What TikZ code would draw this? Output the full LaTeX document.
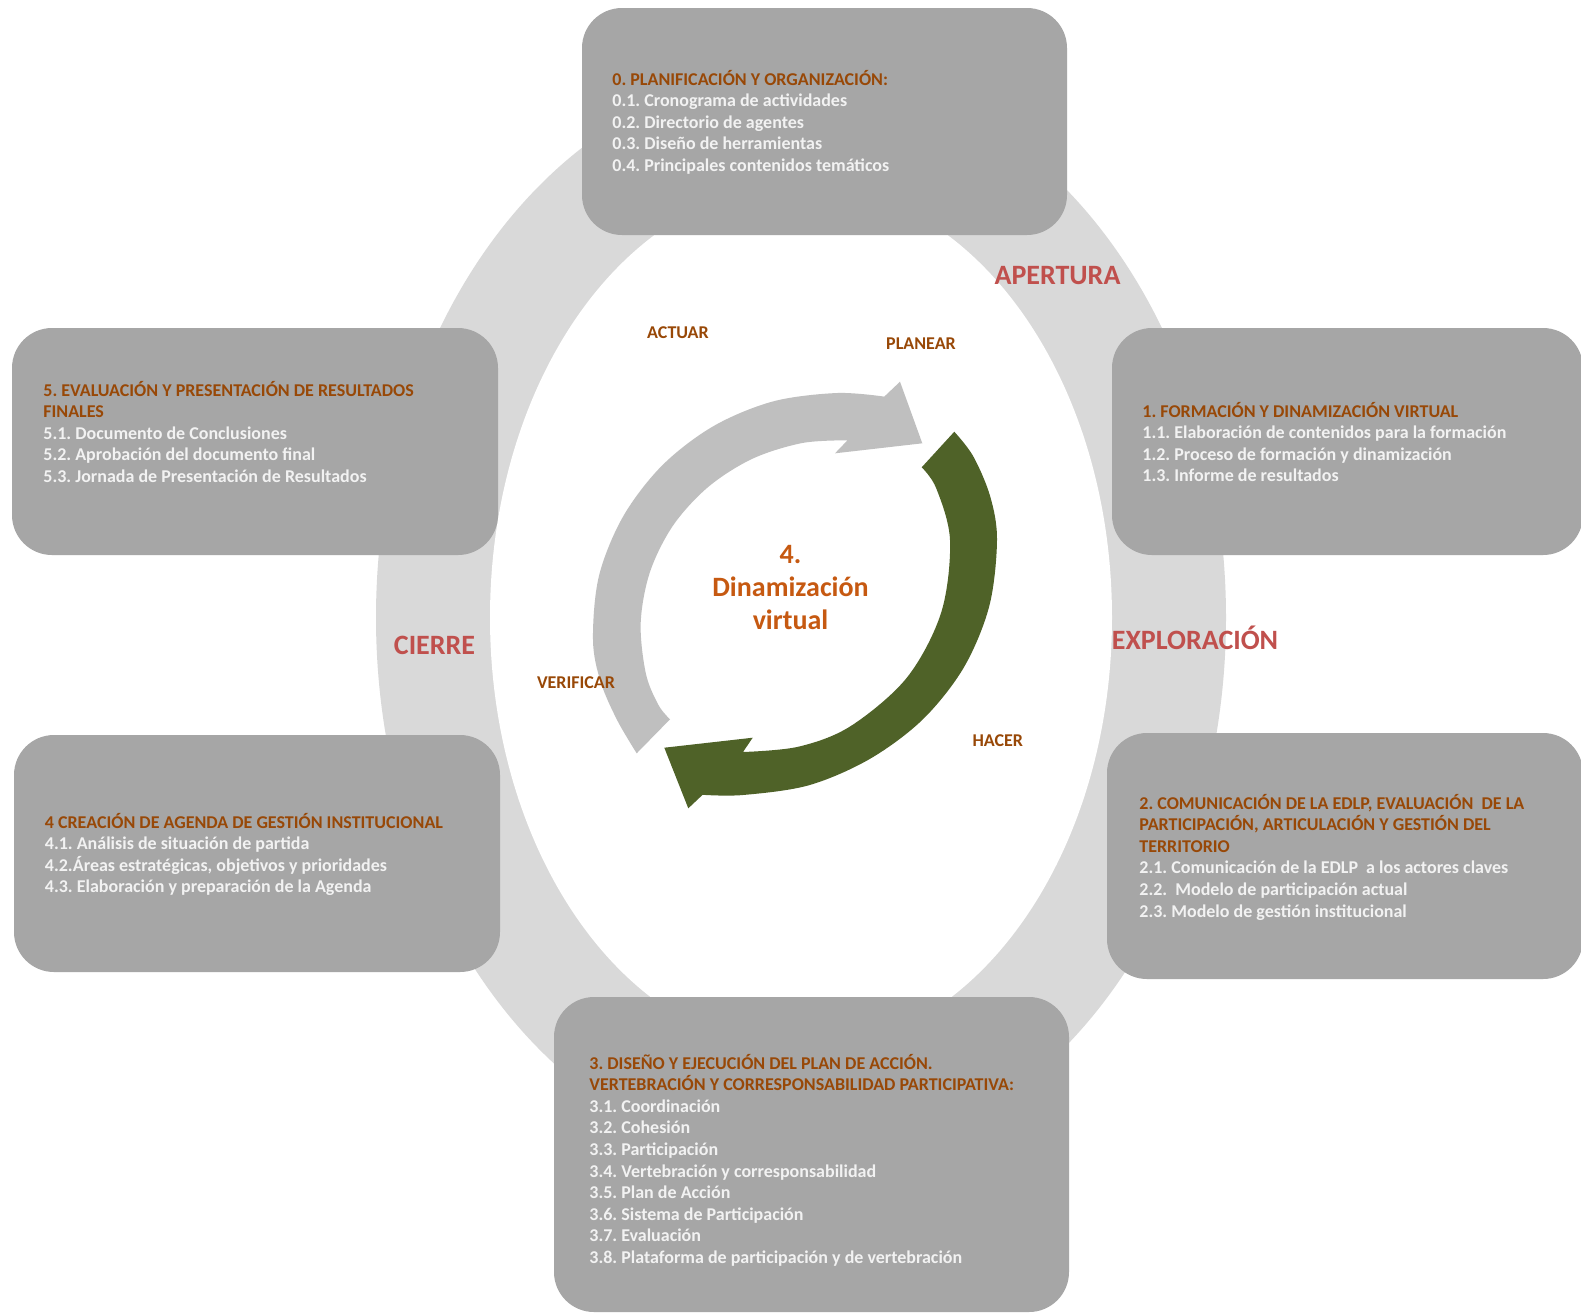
\documentclass[tikz,border=0pt]{standalone}
\usepackage{fontspec}
\setmainfont{Carlito}
\frenchspacing
\definecolor{ringgray}{HTML}{D9D9D9}
\definecolor{boxgray}{HTML}{A6A6A6}
\definecolor{ttlcol}{HTML}{984807}
\definecolor{bodycol}{HTML}{F2F2F2}
\definecolor{phasered}{HTML}{C0504D}
\definecolor{arrgray}{HTML}{BFBFBF}
\definecolor{arrgreen}{HTML}{4F6228}
\definecolor{centercol}{HTML}{C65911}
\newcommand{\ttl}[1]{\textcolor{ttlcol}{#1}}
\begin{document}
\frenchspacing
\begin{tikzpicture}[x=0.5pt,y=-0.5pt,
  boxshape/.style={fill=boxgray, rounded corners=20pt},
  boxtext/.style={anchor=base west, inner sep=0pt, text=bodycol, font=\fontsize{9}{10.8}\selectfont\bfseries\frenchspacing},
  phase/.style={inner sep=0pt, anchor=base, text=phasered, font=\fontsize{14}{16}\selectfont\bfseries},
  pdca/.style={inner sep=0pt, anchor=base, text=ttlcol, font=\fontsize{9}{10.8}\selectfont\bfseries},
  centertext/.style={inner sep=0pt, anchor=base, text=centercol, font=\fontsize{14}{16.5}\selectfont\bfseries}
]
\useasboundingbox (0,0) rectangle (1581,1314);
\fill[white] (0,0) rectangle (1581,1314);
% ring
\fill[ringgray] (801,617.5) ellipse [x radius=212.5pt, y radius=274pt];
\fill[white] (801,617.5) ellipse [x radius=155.5pt, y radius=216.75pt];
% phase labels
\node[phase] (apertura) at (1057.5,284) {APERTURA};
\node[phase] (exploracion) at (1195,649) {EXPLORACIÓN};
\node[phase] (cierre) at (434.5,654) {CIERRE};
% boxes
\fill[boxshape] (582,8) rectangle (1067,235);
\fill[boxshape] (1112,328) rectangle (1583,555);
\fill[boxshape] (12,328) rectangle (498,555);
\fill[boxshape] (14,735) rectangle (500,972);
\fill[boxshape] (1107,733) rectangle (1583,979);
\fill[boxshape] (554,997) rectangle (1069,1312);
% gray arrow
\fill[arrgray] plot[smooth, tension=0.55] coordinates {(636.7,753.3) (617.1,720) (600.6,681.7) (593,640) (598.9,576.2) (623.1,516.5) (662.3,465.3) (713.5,426.1) (773.1,401.4) (837,393) (884.3,396.6)}
  -- (900,381.7) -- (922.3,443.3) -- (835,453.3) -- (847.5,440.3)
  -- plot[smooth, tension=0.55] coordinates {(847.5,440.3) (802.3,443) (752.5,458.7) (708.4,486.8) (673.2,525.3) (650,571.9) (640.7,622.8) (645.9,673.7) (658.5,705) (670,719.3)} -- cycle;
% green arrow
\fill[arrgreen] plot[smooth, tension=0.55] coordinates {(954.3,431.7) (973.2,456.2) (990.2,496.4) (997,540) (989.3,606) (963.8,667.5) (922.6,719.6) (869.5,759.1) (808.7,785.3) (743,795) (702.6,794.8)}
  -- (688.3,808.3) -- (664.3,747.7) -- (752.7,737.7) -- (743,752)
  -- plot[smooth, tension=0.55] coordinates {(743,752) (798.4,746.7) (850.5,726.2) (906.9,677.6) (941.3,612.2) (950,540) (936.2,488.2) (921.7,467.3)} -- cycle;
% PDCA labels
\node[pdca] (actuar) at (678,338) {ACTUAR};
\node[pdca] (planear) at (921,349) {PLANEAR};
\node[pdca] (verificar) at (576,688) {VERIFICAR};
\node[pdca] (hacer) at (997.8,746) {HACER};
% center text
\node[centertext] (center) at (790.5,563) {\begin{tabular}[t]{@{}c@{}}4.\\Dinamización\\virtual\end{tabular}};
% box texts
\node[boxtext] (t0) at (612,85) {\begin{tabular}[t]{@{}l@{}}
\ttl{0. PLANIFICACIÓN Y ORGANIZACIÓN:}\\
0.1. Cronograma de actividades\\
0.2. Directorio de agentes\\
0.3. Diseño de herramientas\\
0.4. Principales contenidos temáticos
\end{tabular}};
\node[boxtext] (t1) at (1142,417) {\begin{tabular}[t]{@{}l@{}}
\ttl{1. FORMACIÓN Y DINAMIZACIÓN VIRTUAL}\\
1.1. Elaboración de contenidos para la formación\\
1.2. Proceso de formación y dinamización\\
1.3. Informe de resultados
\end{tabular}};
\node[boxtext] (t2) at (1139,809) {\begin{tabular}[t]{@{}l@{}}
\ttl{2. COMUNICACIÓN DE LA EDLP, EVALUACIÓN\ \ DE LA}\\
\ttl{PARTICIPACIÓN, ARTICULACIÓN Y GESTIÓN DEL}\\
\ttl{TERRITORIO}\\
2.1. Comunicación de la EDLP\ \ a los actores claves\\
2.2.\ \ Modelo de participación actual\\
2.3. Modelo de gestión institucional
\end{tabular}};
\node[boxtext] (t3) at (589,1069) {\begin{tabular}[t]{@{}l@{}}
\ttl{3. DISEÑO Y EJECUCIÓN DEL PLAN DE ACCIÓN.}\\
\ttl{VERTEBRACIÓN Y CORRESPONSABILIDAD PARTICIPATIVA:}\\
3.1. Coordinación\\
3.2. Cohesión\\
3.3. Participación\\
3.4. Vertebración y corresponsabilidad\\
3.5. Plan de Acción\\
3.6. Sistema de Participación\\
3.7. Evaluación\\
3.8. Plataforma de participación y de vertebración
\end{tabular}};
\node[boxtext] (t4) at (44.5,828) {\begin{tabular}[t]{@{}l@{}}
\ttl{4 CREACIÓN DE AGENDA DE GESTIÓN INSTITUCIONAL}\\
4.1. Análisis de situación de partida\\
4.2.Áreas estratégicas, objetivos y prioridades\\
4.3. Elaboración y preparación de la Agenda
\end{tabular}};
\node[boxtext] (t5) at (43,396) {\begin{tabular}[t]{@{}l@{}}
\ttl{5. EVALUACIÓN Y PRESENTACIÓN DE RESULTADOS}\\
\ttl{FINALES}\\
5.1. Documento de Conclusiones\\
5.2. Aprobación del documento final\\
5.3. Jornada de Presentación de Resultados
\end{tabular}};
\end{tikzpicture}
\end{document}
